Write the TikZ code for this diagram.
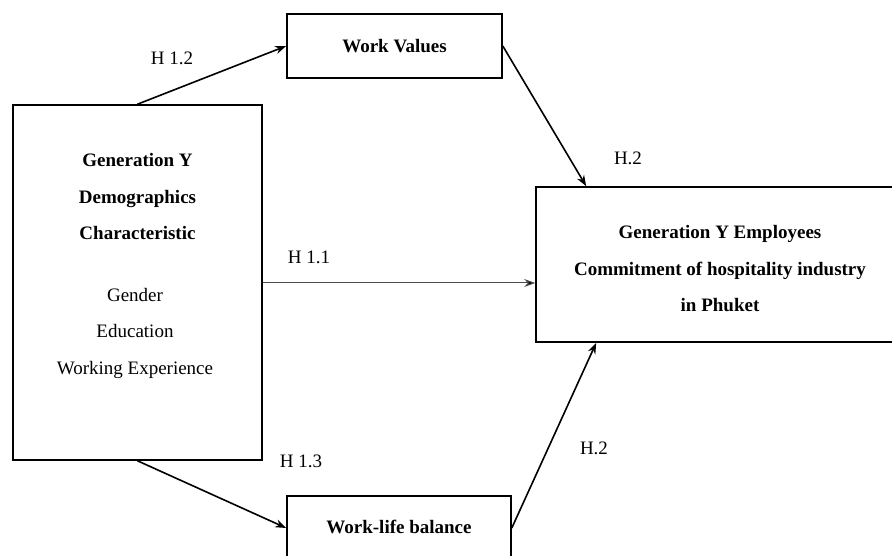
\documentclass[tikz,border=0pt]{standalone}
\usepackage{fontspec}
\setmainfont{Liberation Serif}
\usetikzlibrary{arrows.meta,calc}
\tikzset{
  box/.style={draw, line width=1.6pt, rectangle, inner sep=0pt},
  txt/.style={font=\fontsize{19}{36.5}\selectfont, align=center, inner sep=0pt},
  btxt/.style={txt, font=\fontsize{19}{36.5}\selectfont\bfseries},
  lbl/.style={font=\fontsize{19}{22}\selectfont, inner sep=0pt},
  arr/.style={line width=1.6pt, -{Stealth[length=11pt,width=8pt]}},
  thinarr/.style={line width=1pt, draw=black!70, -{Stealth[length=11pt,width=8pt,fill=black]}}
}
\begin{document}
\begin{tikzpicture}[x=1pt,y=-1pt]
\clip (0,0) rectangle (892,556);
\useasboundingbox (0,0) rectangle (892,556);
\fill[white] (0,0) rectangle (892,556);
% boxes
\node[box, minimum width=249pt, minimum height=355pt] (gen) at (137.5,282.5) {};
\node[box, minimum width=215pt, minimum height=64pt] (wv) at (394.5,46) {};
\node[box, minimum width=368pt, minimum height=155pt] (emp) at (720,264.5) {};
\node[box, minimum width=224pt, minimum height=64pt] (wlb) at (399,528) {};
% texts
\node[btxt] (gent) at (137.5,197) {Generation Y\\Demographics\\Characteristic};
\node[txt] (genl) at (135,333) {Gender\\Education\\Working Experience};
\node[btxt] (wvt) at (394.5,46) {Work Values};
\node[btxt] (empt) at (720,269) {Generation Y Employees\\Commitment of hospitality industry\\in Phuket};
\node[btxt] (wlbt) at (399,527) {Work-life balance};
% labels
\node[lbl] (h12) at (172,58) {H 1.2};
\node[lbl] (h11) at (309,257) {H 1.1};
\node[lbl] (h13) at (301,461) {H 1.3};
\node[lbl] (h2a) at (628,158) {H.2};
\node[lbl] (h2b) at (594,448) {H.2};
% connectors
\draw[arr] (gen.north) -- (wv.west);
\draw[arr] (wv.east) -- ([xshift=51pt]emp.north west);
\draw[thinarr] (gen.east |- 0,283) coordinate (g11) -- (g11 -| emp.west);
\draw[arr] (gen.south) -- (wlb.west);
\draw[arr] (wlb.east) -- ([xshift=61pt]emp.south west);
\end{tikzpicture}
\end{document}
